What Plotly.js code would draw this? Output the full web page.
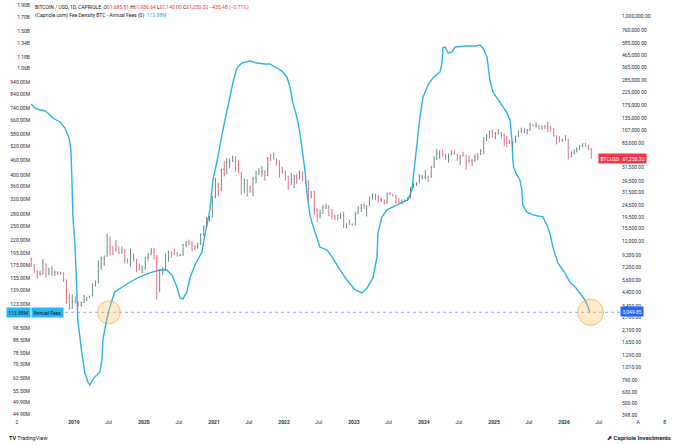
<!DOCTYPE html>
<html><head><meta charset="utf-8">
<script src="https://cdn.plot.ly/plotly-3.0.1.min.js"></script>
<style>html,body{margin:0;padding:0;background:#fff;}#chart{width:680px;height:445px;}</style>
</head><body><div id="chart"></div>
<script>
// ---------- BTC/USD half-month bars ----------
const dates2018 = ['2018-05-23','2018-06-08','2018-06-23','2018-07-08','2018-07-23','2018-08-08','2018-08-23','2018-09-08','2018-09-23','2018-10-08','2018-10-23','2018-11-08','2018-11-23','2018-12-08','2018-12-23'];
const open2018 = [8500,7500,6650,6400,6350,7730,6300,7000,6500,6600,6450,6350,5600,4000,3250];
const high2018 = [8800,7750,6800,6800,8500,7750,7150,7400,6800,6700,6650,6550,5700,4300,4250];
const low2018  = [7300,6500,5780,6100,6300,5900,6200,6100,6100,6200,6250,5400,3550,3150,3200];
const close2018= [7500,6650,6400,6350,7730,6300,7000,6500,6600,6450,6350,5600,4000,3250,3700];

const dates2019 = ['2019-01-08','2019-01-23','2019-02-08','2019-02-23','2019-03-08','2019-03-23','2019-04-08','2019-04-23','2019-05-08','2019-05-23','2019-06-08','2019-06-23','2019-07-08','2019-07-23','2019-08-08','2019-08-23','2019-09-08','2019-09-23','2019-10-08','2019-10-23','2019-11-08','2019-11-23','2019-12-08','2019-12-23'];
const open2019 = [3700,3650,3450,3650,3850,4000,4100,5050,5300,7800,8550,9000,10800,10600,10100,10300,9600,10200,8300,8000,9150,8500,7550,6900];
const high2019 = [4100,3700,3700,4200,4050,4150,5300,5600,8300,8900,9100,13900,13200,10950,12300,10950,10900,10300,8600,10500,9500,8550,7800,7500];
const low2019  = [3550,3350,3350,3600,3750,3950,4100,5000,5300,6900,7450,8900,9100,9200,9900,9400,9500,7800,7750,7300,8100,6550,6850,6450];
const close2019= [3650,3450,3650,3850,4000,4100,5050,5300,7800,8550,9000,10800,10600,10100,10300,9600,10200,8300,8000,9150,8500,7550,6900,7200];

const dates2020 = ['2020-01-08','2020-01-23','2020-02-08','2020-02-23','2020-03-08','2020-03-23','2020-04-08','2020-04-23','2020-05-08','2020-05-23','2020-06-08','2020-06-23','2020-07-08','2020-07-23','2020-08-08','2020-08-23','2020-09-08','2020-09-23','2020-10-08','2020-10-23','2020-11-08','2020-11-23','2020-12-08','2020-12-23'];
const open2020 = [7200,8700,9350,10350,8550,5350,6450,7100,8650,9700,9450,9450,9150,9200,11350,11850,11650,10950,10800,11500,13800,15950,18800,19400];
const high2020 = [8900,9600,10500,10500,9200,6900,7300,9450,10050,9950,10400,9750,9450,11450,12100,12450,12100,11150,11700,14100,16500,19400,19900,29000];
const low2020  = [6900,8250,9150,8450,3850,4450,6200,6850,8100,8700,9250,8900,9000,9050,10700,11150,9900,10150,10400,11250,13300,15800,17600,19300];
const close2020= [8700,9350,10350,8550,5350,6450,7100,8650,9700,9450,9450,9150,9200,11350,11850,11650,10950,10800,11500,13800,15950,18800,19400,28950];

const dates2021 = ['2021-01-08','2021-01-23','2021-02-08','2021-02-23','2021-03-08','2021-03-23','2021-04-08','2021-04-23','2021-05-08','2021-05-23','2021-06-08','2021-06-23','2021-07-08','2021-07-23','2021-08-08','2021-08-23','2021-09-08','2021-09-23','2021-10-08','2021-10-23','2021-11-08','2021-11-23','2021-12-08','2021-12-23'];
const open2021 = [28950,36800,33100,49200,45200,56900,58800,63200,57700,46400,37300,40200,35000,31800,41500,46000,47100,47300,43800,61600,61300,60100,57000,48000];
const high2021 = [41900,38000,49700,58300,61800,61000,64800,63500,59500,46600,41300,40500,36000,42600,48000,50500,52900,48500,62900,67000,69000,60800,59100,52000];
const low2021  = [28100,29000,32300,43000,45000,50300,57000,47100,46000,30100,31000,28800,31200,29300,37500,44000,42800,39600,43300,58100,60100,53300,42000,45500];
const close2021= [36800,33100,49200,45200,56900,58800,63200,57700,46400,37300,40200,35000,31800,41500,46000,47100,47300,43800,61600,61300,60100,57000,48000,46300];

const dates2022 = ['2022-01-08','2022-01-23','2022-02-08','2022-02-23','2022-03-08','2022-03-23','2022-04-08','2022-04-23','2022-05-08','2022-05-23','2022-06-08','2022-06-23','2022-07-08','2022-07-23','2022-08-08','2022-08-23','2022-09-08','2022-09-23','2022-10-08','2022-10-23','2022-11-08','2022-11-23','2022-12-08','2022-12-23'];
const open2022 = [46300,43100,38500,40500,43200,40900,45500,40500,38500,29800,31800,22600,19800,20800,23300,23900,20050,19700,19400,19250,20500,16600,17000,16750];
const high2022 = [47900,43500,45800,44500,45400,48200,47400,42900,40000,32200,32400,22800,22500,24600,25200,24400,22800,20300,20500,21000,21450,17200,18400,17100];
const low2022  = [39650,33000,36300,34300,37200,40500,39200,37600,26700,28000,20100,17600,18800,20700,22700,19700,18550,18200,18200,18700,15600,15500,16700,16300];
const close2022= [43100,38500,40500,43200,40900,45500,40500,38500,29800,31800,22600,19800,20800,23300,23900,20050,19700,19400,19250,20500,16600,17000,16750,16550];

const dates2023 = ['2023-01-08','2023-01-23','2023-02-08','2023-02-23','2023-03-08','2023-03-23','2023-04-08','2023-04-23','2023-05-08','2023-05-23','2023-06-08','2023-06-23','2023-07-08','2023-07-23','2023-08-08','2023-08-23','2023-09-08','2023-09-23','2023-10-08','2023-10-23','2023-11-08','2023-11-23','2023-12-08','2023-12-23'];
const open2023 = [16550,20900,23100,24300,23100,24300,28450,30300,29250,27050,27200,25600,30500,30300,29200,26050,25900,26600,27000,28500,34500,36500,37700,41900];
const high2023 = [21500,23900,25000,25250,24400,28900,31000,30500,29800,28400,27400,31400,31800,30400,30200,28100,27400,27400,28600,35000,37900,38400,44700,44300];
const low2023  = [16500,20400,21400,22800,19600,24100,27200,27000,25800,26100,24800,25100,29700,29000,25200,25700,24900,26000,26600,28000,34100,35600,37600,40600];
const close2023= [20900,23100,24300,23100,24300,28450,30300,29250,27050,27200,25600,30500,30300,29200,26050,25900,26600,27000,28500,34500,36500,37700,41900,42300];

const dates2024 = ['2024-01-08','2024-01-23','2024-02-08','2024-02-23','2024-03-08','2024-03-23','2024-04-08','2024-04-23','2024-05-08','2024-05-23','2024-06-08','2024-06-23','2024-07-08','2024-07-23','2024-08-08','2024-08-23','2024-09-08','2024-09-23','2024-10-08','2024-10-23','2024-11-08','2024-11-23','2024-12-08','2024-12-23'];
const open2024 = [42300,42700,42600,51600,61200,67900,71300,64000,60600,66200,67500,66500,62700,64800,64600,58900,58900,58200,63300,67000,70200,87300,96400,104400];
const high2024 = [48900,43600,52800,64000,73800,71800,72700,67200,67500,71900,71900,66900,65000,69900,65500,65000,60600,66400,67500,73600,93400,99600,105000,108300];
const low2024  = [40700,38500,41900,50600,59300,60800,63800,59600,56500,65200,66000,58400,53500,63400,49000,56100,52600,57600,58900,65500,66800,86600,90500,92200];
const close2024= [42700,42600,51600,61200,67900,71300,64000,60600,66200,67500,66500,62700,64800,64600,58900,58900,58200,63300,67000,70200,87300,96400,104400,93400];

const dates2025 = ['2025-01-08','2025-01-23','2025-02-08','2025-02-23','2025-03-08','2025-03-23','2025-04-08','2025-04-23','2025-05-08','2025-05-23','2025-06-08','2025-06-23','2025-07-08','2025-07-23','2025-08-08','2025-08-23','2025-09-08','2025-09-23','2025-10-08','2025-10-23','2025-11-08','2025-11-23','2025-12-08','2025-12-23'];
const open2025 = [93400,100500,102400,97600,84300,84000,82500,84000,94200,103500,104600,105000,107100,117600,115700,117400,109200,115400,114000,111500,109600,95500,90900,88000];
const high2025 = [102700,109300,102500,99500,95000,88700,86000,95700,105700,111900,110500,108900,123200,120000,124400,117600,116800,117900,126200,116400,110600,96600,94500,90500];
const low2025  = [89300,97800,91200,78200,76700,81600,74500,83500,93400,101400,100400,98200,105100,114700,112000,108100,107200,108600,102000,103500,94000,80600,84000,84400];
const close2025= [100500,102400,97600,84300,84000,82500,84000,94200,103500,104600,105000,107100,117600,115700,117400,109200,115400,114000,111500,109600,95500,90900,88000,87500];

const dates2026 = ['2026-01-08','2026-01-23','2026-02-08','2026-02-23','2026-03-08','2026-03-23','2026-04-08','2026-04-23','2026-05-08','2026-05-23'];
const open2026 = [87500,89000,64000,68000,70500,74000,77500,81000,79000,74000];
const high2026 = [97000,90000,70500,73000,76000,79000,82500,83000,80000,75000];
const low2026  = [86500,60000,62500,66000,69000,72000,76000,77000,72000,61140];
const close2026= [89000,64000,68000,70500,74000,77500,81000,79000,74000,61250];

// ---------- Fee Density BTC - Annual Fees (millions USD) ----------
const feeDates = ['2018-05-22','2018-06-11','2018-07-08','2018-08-03','2018-08-18','2018-09-13','2018-10-20','2018-11-15','2018-12-06','2018-12-16','2018-12-21','2018-12-26',
 '2019-01-06','2019-01-11','2019-01-16','2019-01-21','2019-02-01','2019-02-11','2019-02-27','2019-03-15','2019-03-25','2019-04-04','2019-04-15','2019-05-01','2019-05-16','2019-05-27','2019-06-01','2019-06-17','2019-07-07','2019-08-02','2019-09-08','2019-10-20','2019-12-11',
 '2020-02-01','2020-03-24','2020-04-30','2020-05-26','2020-06-21','2020-07-07','2020-07-22','2020-08-12','2020-08-28','2020-09-23','2020-10-30','2020-11-09','2020-11-25','2020-12-10','2020-12-26',
 '2021-01-21','2021-02-16','2021-03-14','2021-04-09','2021-04-30','2021-05-26','2021-07-07','2021-08-12','2021-09-23','2021-10-19','2021-11-14','2021-12-21',
 '2022-01-16','2022-02-01','2022-02-16','2022-03-09','2022-03-25','2022-04-09','2022-04-20','2022-04-30','2022-05-16','2022-05-26','2022-06-11','2022-06-22','2022-07-07','2022-08-13','2022-09-13','2022-10-20','2022-11-25',
 '2023-01-06','2023-02-11','2023-03-09','2023-04-10','2023-05-01','2023-05-06','2023-05-27','2023-06-22','2023-07-23','2023-09-08','2023-10-09','2023-10-30','2023-11-10','2023-11-25','2023-12-11','2023-12-27',
 '2024-01-22','2024-02-17','2024-03-25','2024-04-04','2024-04-09','2024-04-20','2024-05-06','2024-05-27','2024-06-11','2024-08-12','2024-10-03','2024-10-19','2024-11-04','2024-11-25','2024-11-30','2024-12-10','2024-12-26',
 '2025-01-21','2025-02-16','2025-03-09','2025-03-25','2025-04-04','2025-04-09','2025-04-14','2025-04-30','2025-05-16','2025-05-26','2025-05-31','2025-06-21','2025-07-23','2025-08-18','2025-09-13','2025-10-04','2025-10-19','2025-11-04','2025-11-30',
 '2026-01-06','2026-02-01','2026-02-27','2026-03-25','2026-04-20','2026-05-06','2026-05-16'];
const feeMillions = [767,740,726,720,707,675,651,616,562,504,393,278,
 211,176,140,106,88.4,78.4,65.3,60.1,58.5,60.7,62.4,64.1,65.9,73.6,88.4,103.2,119.6,137.2,143.6,150.3,157.4,
 163.3,167.8,167.8,160.2,143.6,129.8,128.6,137.2,155.9,175.6,197.8,220.8,253.3,290.6,382.5,
 472.2,604.8,746.6,930,1067,1117,1138,1117,1107,1107,1077,1038,
 983,897,775,681,588,490,419,340,278,260,238,221,207,201.5,187,168,153,
 140,136,142,156,189,235,273,291,299,310,319,349,419,537,681,818,
 913,974,1029,1117,1282,1294,1224,1236,1294,1306,1306,1318,1282,1180,1077,956,856,
 796,747,707,663,552,459,427,400,382,349,304,285,278,275,273,253,235,207,179,
 163,150,144,136,127.5,119.6,113.88];
const feeLast = 113.88;
const feeLastOnPriceScale = 3049.85;
const lastPrice = 61250.32;
const circleDates = ['2019-07-02','2026-05-19'];

// ---------- axis ticks ----------
const feeTickVals = [1900,1700,1500,1340,1180,1060,940,840,740,660,580,520,460,400,360,320,280,250,220,195,175,155,139,123,98.5,88.5,78.5,70.5,62.5,55.5,49.9,44.9];
const priceTickVals = [1300000,1000000,760000,585000,465000,365000,285000,225000,175000,135000,107000,83000,51500,39500,31500,24500,19500,15500,12000,9200,7200,5600,4400,3400,2700,2100,1650,1290,1010,790,630,500,398];
const timeTickVals = ['2018-03-09','2019-01-01','2019-07-01','2020-01-01','2020-07-01','2021-01-01','2021-07-01','2022-01-01','2022-07-01','2023-01-01','2023-07-01','2024-01-01','2024-07-01','2025-01-01','2025-07-01','2026-01-01','2026-07-01','2027-01-22','2027-06-11'];
const timeTickText = ['2','<b>2019</b>','Jul','<b>2020</b>','Jul','<b>2021</b>','Jul','<b>2022</b>','Jul','<b>2023</b>','Jul','<b>2024</b>','Jul','<b>2025</b>','Jul','<b>2026</b>','Jul','A','B'];

const candleDates = [].concat(dates2018,dates2019,dates2020,dates2021,dates2022,dates2023,dates2024,dates2025,dates2026);
const openP = [].concat(open2018,open2019,open2020,open2021,open2022,open2023,open2024,open2025,open2026);
const highP = [].concat(high2018,high2019,high2020,high2021,high2022,high2023,high2024,high2025,high2026);
const lowP  = [].concat(low2018,low2019,low2020,low2021,low2022,low2023,low2024,low2025,low2026);
const closeP= [].concat(close2018,close2019,close2020,close2021,close2022,close2023,close2024,close2025,close2026);

const feeTickText = feeTickVals.map(v => v >= 1000 ? (v/1000).toFixed(2) + 'B' : v.toFixed(2) + 'M');
const priceTickText = priceTickVals.map(v => v.toLocaleString('en-US',{minimumFractionDigits:2,maximumFractionDigits:2}));

const W = 680, PH = 418;
const px = x => x / W;
const py = y => 1 - y / PH;

const RED = '#f23645', DARK = '#131722', CYAN = '#2bb3e8';
const FONT = 'Roboto, "Liberation Sans", Arial, sans-serif';

const traces = [
  {type:'ohlc', x:candleDates, open:openP, high:highP, low:lowP, close:closeP,
   xaxis:'x', yaxis:'y2', tickwidth:0.2, hoverinfo:'skip',
   increasing:{line:{color:'#5a7f78', width:0.9}},
   decreasing:{line:{color:'#d9627c', width:0.9}}},
  {type:'scatter', mode:'lines', x:['2018-10-15','2026-10-24'], y:[feeLast, feeLast], yaxis:'y',
   line:{color:'rgba(95,110,225,0.75)', width:0.8, dash:'3px,3px'}, hoverinfo:'skip'},
  {type:'scatter', mode:'lines', x:feeDates, y:feeMillions, yaxis:'y',
   line:{color:CYAN, width:1.4}, hoverinfo:'skip'},
  {type:'scatter', mode:'markers', x:circleDates, y:[feeLast, feeLast], yaxis:'y',
   marker:{size:[23,26], color:'rgba(255,190,90,0.45)', line:{color:'#f2a43a', width:1}}, hoverinfo:'skip'}
];

const lab = {family:FONT, size:5, color:'#2a2e39'};

const layout = {
  width:680, height:445,
  margin:{l:0, r:0, t:0, b:27, pad:0},
  paper_bgcolor:'#ffffff', plot_bgcolor:'#ffffff',
  showlegend:false, hovermode:false,
  font:{family:FONT, size:5, color:DARK},
  xaxis:{type:'date', range:['2017-12-11','2027-08-29'], domain:[0,1],
    showgrid:false, zeroline:false, showline:false, ticks:'',
    tickmode:'array', tickvals:timeTickVals, ticktext:timeTickText, tickfont:lab,
    rangeslider:{visible:false}, fixedrange:true},
  yaxis:{type:'log', range:[1.63600, 3.29869], anchor:'free', position:px(30), side:'left',
    showgrid:false, zeroline:false, showline:false, ticks:'',
    tickmode:'array', tickvals:feeTickVals, ticktext:feeTickText, tickfont:lab, fixedrange:true},
  yaxis2:{type:'log', range:[2.57581, 6.13629], overlaying:'y', anchor:'free', position:px(621), side:'right',
    showgrid:false, zeroline:false, showline:false, ticks:'',
    tickmode:'array', tickvals:priceTickVals, ticktext:priceTickText, tickfont:lab, fixedrange:true},
  annotations:[
    {xref:'paper', yref:'paper', x:px(33), y:py(7), xanchor:'left', yanchor:'middle', showarrow:false,
     font:{family:FONT, size:5, color:DARK},
     text:'BITCOIN / USD, 1D, CAPRIOLE  O<span style="color:'+RED+'">61,685.81</span> H<span style="color:'+RED+'">61,936.64</span> L<span style="color:'+RED+'">61,140.00</span> C<span style="color:'+RED+'">61,250.32</span> <span style="color:'+RED+'">−435.48 (−0.71%)</span>'},
    {xref:'paper', yref:'paper', x:px(33), y:py(16), xanchor:'left', yanchor:'middle', showarrow:false,
     font:{family:FONT, size:5, color:DARK},
     text:'(Capriole.com) Fee Density BTC - Annual Fees (0)  <span style="color:'+CYAN+'">113.88M</span>'},
    {xref:'paper', yref:'y', x:px(6), y:Math.log10(feeLast), xanchor:'left', yanchor:'middle', showarrow:false,
     bgcolor:'#29b6f6', borderpad:1.5, font:{family:FONT, size:5, color:DARK}, text:'113.88M'},
    {xref:'paper', yref:'y', x:px(31), y:Math.log10(feeLast), xanchor:'left', yanchor:'middle', showarrow:false,
     bgcolor:'#29b6f6', borderpad:1.5, font:{family:FONT, size:5, color:DARK}, text:'Annual Fees'},
    {xref:'paper', yref:'y2', x:px(620), y:Math.log10(feeLastOnPriceScale), xanchor:'left', yanchor:'middle', showarrow:false,
     bgcolor:'#2962ff', borderpad:1.5, font:{family:FONT, size:5, color:'#ffffff'}, text:'3,049.85'},
    {xref:'paper', yref:'y2', x:px(598), y:Math.log10(lastPrice), xanchor:'left', yanchor:'middle', showarrow:false,
     bgcolor:RED, borderpad:1.5, font:{family:FONT, size:5, color:'#ffffff'}, text:'BTCUSD'},
    {xref:'paper', yref:'y2', x:px(620), y:Math.log10(lastPrice), xanchor:'left', yanchor:'middle', showarrow:false,
     bgcolor:RED, borderpad:1.5, font:{family:FONT, size:5, color:'#ffffff'}, text:'61,250.32'},
    {xref:'paper', yref:'paper', x:px(7), y:py(438), xanchor:'left', yanchor:'middle', showarrow:false,
     font:{family:FONT, size:5.5, color:DARK}, text:'<b>TV</b> TradingView'},
    {xref:'paper', yref:'paper', x:px(673), y:py(437), xanchor:'right', yanchor:'middle', showarrow:false,
     font:{family:FONT, size:6, color:'#1c2740'}, text:'<b>⬈ Capriole Investments</b>'}
  ]
};

Plotly.newPlot('chart', traces, layout, {staticPlot:true, displayModeBar:false});
</script>
</body></html>
